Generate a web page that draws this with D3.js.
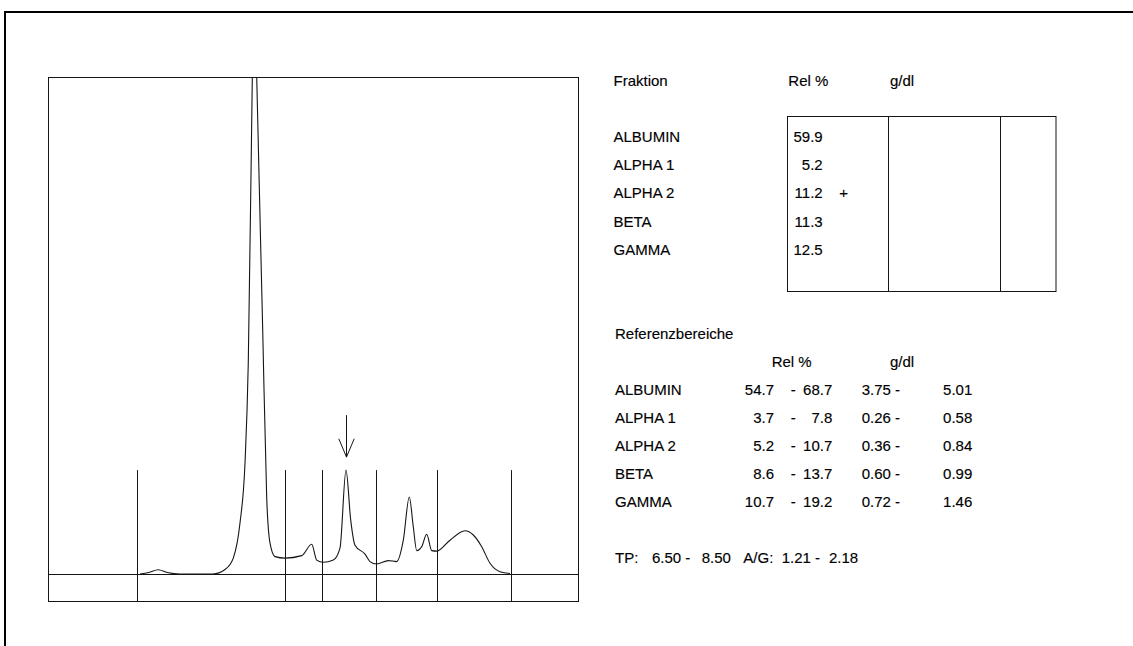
<!DOCTYPE html>
<html>
<head>
<meta charset="utf-8">
<script src="https://cdn.jsdelivr.net/npm/d3@7"></script>
<style>
  html, body { margin: 0; padding: 0; background: #fff; }
  svg { display: block; }
  text { font-family: "Liberation Sans", Arial, sans-serif; font-size: 15px; fill: #000; stroke: #000; stroke-width: 0.15px; }
</style>
</head>
<body>
<svg id="chart" width="1133" height="646"></svg>
<script>
// Densitogram of the serum protein electrophoresis (relative migration, absorbance)
const position = [17.36, 19.0, 20.81, 22.5, 24.9, 31.1, 33.4, 34.96, 36.23, 37.17, 37.79, 38.55, 38.9,
  39.38, 40.51, 41.26, 41.89, 42.83, 44.72, 47.87, 49.75, 50.70, 51.94, 53.83, 55.09, 56.23, 57.11,
  57.92, 59.81, 60.75, 62.02, 64.21, 65.79, 67.04, 68.17, 68.92, 69.57, 70.51, 71.45, 72.40, 73.34,
  75.85, 78.68, 80.25, 81.83, 83.40, 85.28, 87.17];
const absorbance = [0, 0.3, 0.85, 0.3, 0, 0, 0.9, 3.2, 10.3, 22.3, 42.5, 100, 123,
  100, 49.1, 15.5, 6.2, 3.5, 3.2, 3.7, 6.0, 2.8, 2.35, 2.8, 5.2, 20.9, 10.9,
  5.8, 4.0, 2.5, 2.0, 2.7, 2.5, 6.8, 15.5, 9.5, 4.7, 5.5, 8.0, 4.7, 4.6,
  6.8, 8.7, 7.85, 5.5, 2.15, 0.45, 0.1];

// Fraction cut points along the migration axis and height of the cut markers
const fractionBounds = [16.79, 44.66, 51.79, 61.94, 73.40, 87.42];
const markerHeight = 20.9;

// Result table
const fractions = ["ALBUMIN", "ALPHA 1", "ALPHA 2", "BETA", "GAMMA"];
const relPercent = ["59.9", "5.2", "11.2", "11.3", "12.5"];
const flags = ["", "", "+", "", ""];

// Reference ranges
const refRelLow = ["54.7", "3.7", "5.2", "8.6", "10.7"];
const refRelHigh = ["68.7", "7.8", "10.7", "13.7", "19.2"];
const refGdlLow = ["3.75", "0.26", "0.36", "0.60", "0.72"];
const refGdlHigh = ["5.01", "0.58", "0.84", "0.99", "1.46"];
const totalProtein = ["6.50", "8.50"];
const agRatio = ["1.21", "2.18"];

const svg = d3.select("#chart");
const ink = "#151515";

// Outer page frame (runs off the right and bottom edges)
svg.append("rect")
  .attr("x", 5).attr("y", 12).attr("width", 1200).attr("height", 700)
  .attr("fill", "none").attr("stroke", "#000").attr("stroke-width", 2);

// Plot geometry
const box = { left: 48, right: 578, top: 77, bottom: 601 };
const x = d3.scaleLinear().domain([0, 100]).range([box.left, box.right]);
const y = d3.scaleLinear().domain([0, 100]).range([574, box.top]);

const plot = svg.append("g");

svg.append("clipPath").attr("id", "plot-clip")
  .append("rect")
  .attr("x", box.left).attr("y", box.top)
  .attr("width", box.right - box.left).attr("height", box.bottom - box.top);

// Box outline
plot.append("rect")
  .attr("x", box.left + 0.5).attr("y", box.top + 0.5)
  .attr("width", box.right - box.left).attr("height", box.bottom - box.top)
  .attr("fill", "none").attr("stroke", ink).attr("stroke-width", 1);

// Baseline
plot.append("line")
  .attr("x1", box.left).attr("x2", box.right)
  .attr("y1", Math.round(y(0)) + 0.5).attr("y2", Math.round(y(0)) + 0.5)
  .attr("stroke", ink).attr("stroke-width", 1);

// Fraction cut markers
plot.selectAll("line.cut")
  .data(fractionBounds)
  .join("line")
  .attr("class", "cut")
  .attr("x1", d => Math.round(x(d)) + 0.5).attr("x2", d => Math.round(x(d)) + 0.5)
  .attr("y1", y(markerHeight)).attr("y2", box.bottom)
  .attr("stroke", ink).attr("stroke-width", 1);

// Densitogram curve
const pts = position.map((p, i) => [p, absorbance[i]]);
const line = d3.line().x(d => x(d[0])).y(d => y(d[1])).curve(d3.curveMonotoneX);
plot.append("path")
  .datum(pts)
  .attr("clip-path", "url(#plot-clip)")
  .attr("d", line)
  .attr("fill", "none").attr("stroke", ink).attr("stroke-width", 1.1);

// Arrow over the flagged fraction (ALPHA 2) peak
const flagged = flags.indexOf("+");
const inFraction = pts.filter(d => d[0] >= fractionBounds[flagged] && d[0] <= fractionBounds[flagged + 1]);
const peak = inFraction.reduce((a, b) => (b[1] > a[1] ? b : a));
const ax = Math.round(x(peak[0])) + 0.5;
const tipY = y(peak[1]) - 13;
const arrow = plot.append("g").attr("stroke", ink).attr("stroke-width", 1).attr("fill", "none");
arrow.append("line").attr("x1", ax).attr("x2", ax).attr("y1", tipY - 42).attr("y2", tipY);
arrow.append("path").attr("d", `M${ax - 7.7},${tipY - 18.4}L${ax},${tipY}L${ax + 7.7},${tipY - 18.4}`);

// ---------- Result table ----------
const res = svg.append("g");
res.append("text").attr("x", 613.5).attr("y", 85.7).text("Fraktion");
res.append("text").attr("x", 788.3).attr("y", 85.7).text("Rel %");
res.append("text").attr("x", 890).attr("y", 85.7).text("g/dl");

const tbl = { left: 787.5, right: 1056, top: 116.5, bottom: 291.5, cols: [888.5, 1000.5] };
res.append("rect")
  .attr("x", tbl.left).attr("y", tbl.top)
  .attr("width", tbl.right - tbl.left).attr("height", tbl.bottom - tbl.top)
  .attr("fill", "none").attr("stroke", ink).attr("stroke-width", 1);
res.selectAll("line.col").data(tbl.cols).join("line").attr("class", "col")
  .attr("x1", d => d).attr("x2", d => d).attr("y1", tbl.top).attr("y2", tbl.bottom)
  .attr("stroke", ink).attr("stroke-width", 1);

const rowRes = d3.scaleLinear().domain([0, 1]).range([141.7, 170]);
res.selectAll("text.frac").data(fractions).join("text").attr("class", "frac")
  .attr("x", 613.5).attr("y", (d, i) => rowRes(i)).text(d => d);
res.selectAll("text.rel").data(relPercent).join("text").attr("class", "rel")
  .attr("x", 822.7).attr("y", (d, i) => rowRes(i)).attr("text-anchor", "end").text(d => d);
res.selectAll("text.flag").data(flags).join("text").attr("class", "flag")
  .attr("x", 843.7).attr("y", (d, i) => rowRes(i)).attr("text-anchor", "middle").text(d => d);

// ---------- Reference ranges ----------
const ref = svg.append("g");
ref.append("text").attr("x", 615).attr("y", 339.3).text("Referenzbereiche");
ref.append("text").attr("x", 771.7).attr("y", 366.7).text("Rel %");
ref.append("text").attr("x", 890).attr("y", 366.7).text("g/dl");

const rowRef = d3.scaleLinear().domain([0, 1]).range([395, 422.9]);
ref.selectAll("text.frac").data(fractions).join("text").attr("class", "frac")
  .attr("x", 615).attr("y", (d, i) => rowRef(i)).text(d => d);
ref.selectAll("text.rlo").data(refRelLow).join("text").attr("class", "rlo")
  .attr("x", 774).attr("y", (d, i) => rowRef(i)).attr("text-anchor", "end").text(d => d);
ref.selectAll("text.rdash").data(refRelLow).join("text").attr("class", "rdash")
  .attr("x", 790.7).attr("y", (d, i) => rowRef(i)).text("-");
ref.selectAll("text.rhi").data(refRelHigh).join("text").attr("class", "rhi")
  .attr("x", 832.3).attr("y", (d, i) => rowRef(i)).attr("text-anchor", "end").text(d => d);
ref.selectAll("text.glo").data(refGdlLow).join("text").attr("class", "glo")
  .attr("x", 900).attr("y", (d, i) => rowRef(i)).attr("text-anchor", "end").text(d => d + " -");
ref.selectAll("text.ghi").data(refGdlHigh).join("text").attr("class", "ghi")
  .attr("x", 972.3).attr("y", (d, i) => rowRef(i)).attr("text-anchor", "end").text(d => d);

// Total protein and A/G ratio line
const tpY = 563.3;
ref.append("text").attr("x", 615).attr("y", tpY).text("TP:");
ref.append("text").attr("x", 652).attr("y", tpY).text(totalProtein[0] + " -");
ref.append("text").attr("x", 701.7).attr("y", tpY).text(totalProtein[1]);
ref.append("text").attr("x", 743.3).attr("y", tpY).text("A/G:");
ref.append("text").attr("x", 781.7).attr("y", tpY).text(agRatio[0] + " -");
ref.append("text").attr("x", 829).attr("y", tpY).text(agRatio[1]);
</script>
</body>
</html>
